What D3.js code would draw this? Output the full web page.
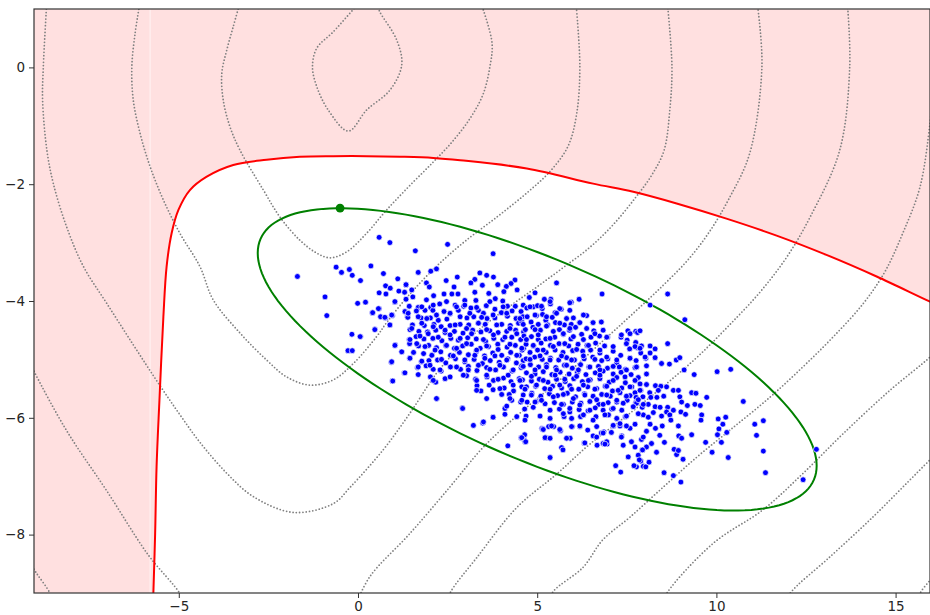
<!DOCTYPE html>
<html>
<head>
<meta charset="utf-8">
<script src="https://cdn.jsdelivr.net/npm/d3@7"></script>
<style>
  body { margin: 0; background: #fff; }
  text { font-family: "DejaVu Sans", sans-serif; }
</style>
</head>
<body>
<script>
// axis setup
const xDomain = [-9.04, 15.96];
const yDomain = [-9, 1];
const xTicks = [-5, 0, 5, 10, 15];
const yTicks = [0, -2, -4, -6, -8];

// red constraint boundary (pink = outside)
const redBoundary = [[-5.72,-9.2],[-5.71,-9.01],[-5.66,-7.98],[-5.62,-6.84],[-5.54,-5.70],[-5.43,-4.27],
  [-5.34,-3.41],[-5.20,-2.84],[-5.01,-2.44],[-4.69,-2.10],[-4.22,-1.87],[-3.48,-1.67],[-2.55,-1.58],
  [-1.62,-1.53],[-0.69,-1.52],[0.24,-1.52],[1.17,-1.53],[2.10,-1.55],[2.85,-1.59],[4.71,-1.73],
  [6.56,-1.99],[7.68,-2.13],[8.89,-2.33],[10.28,-2.59],[11.68,-2.88],[13.07,-3.21],[14.47,-3.58],
  [15.96,-4.01],[16.3,-4.10]];

// dotted level lines
const levelLines = [
  [[-0.05,1.05],[-0.69,0.61],[-1.15,0.33],[-1.27,0.01],[-1.15,-0.33],[-0.83,-0.73],[-0.27,-1.09],
   [0.24,-0.73],[0.89,-0.39],[1.22,0.04],[1.08,0.47],[0.61,0.95],[0.55,1.05]],
  [[-3.32,1.05],[-3.48,0.70],[-3.66,0.30],[-3.80,-0.10],[-3.76,-0.56],[-3.57,-1.02],[-3.29,-1.42],
   [-2.64,-2.10],[-2.18,-2.56],[-1.62,-2.96],[-1.15,-3.18],[-0.78,-3.26],[-0.32,-3.16],[0.24,-2.84],
   [0.80,-2.44],[1.45,-2.02],[2.10,-1.62],[2.62,-1.28],[3.12,-0.88],[3.49,-0.46],[3.68,0.01],
   [3.74,0.42],[3.46,1.05]],
  [[-6.10,1.05],[-6.22,0.58],[-6.31,0.01],[-6.27,-0.56],[-6.08,-1.13],[-5.80,-1.70],[-5.43,-2.27],
   [-4.97,-2.84],[-4.41,-3.41],[-4.04,-3.98],[-3.29,-4.55],[-2.55,-5.01],[-1.99,-5.30],[-1.34,-5.44],
   [-0.69,-5.35],[-0.13,-5.07],[0.52,-4.61],[0.81,-4.36],[1.42,-3.90],[2.20,-3.40],[3.00,-2.97],
   [3.90,-2.55],[4.71,-2.15],[5.36,-1.78],[5.86,-1.35],[6.10,-0.80],[6.19,0.01],[6.09,1.05]],
  [[-8.69,1.05],[-8.78,0.01],[-8.80,-0.56],[-8.68,-1.42],[-8.50,-1.99],[-8.13,-2.73],[-7.66,-3.41],
   [-7.01,-4.04],[-6.27,-4.75],[-5.60,-5.38],[-5.00,-5.92],[-4.41,-6.42],[-3.66,-6.95],[-2.92,-7.35],
   [-1.80,-7.62],[-0.69,-7.47],[-0.22,-7.19],[0.70,-6.55],[1.45,-5.92],[2.20,-5.23],[2.85,-4.78],
   [3.60,-4.38],[4.30,-4.06],[4.99,-3.76],[5.72,-3.43],[6.47,-3.08],[7.11,-2.70],[7.73,-2.24],
   [8.20,-1.84],[8.54,-1.42],[8.70,-0.73],[8.76,0.01],[8.64,1.05]],
  [[-9.2,-5.0],[-9.01,-5.24],[-8.13,-6.22],[-7.01,-7.25],[-5.85,-8.35],[-4.97,-9.01],[-4.85,-9.2]],
  [[-0.06,-9.2],[0.33,-8.72],[1.45,-7.98],[2.57,-7.18],[3.50,-6.50],[4.61,-5.87],[5.73,-5.30],
   [6.84,-4.68],[7.70,-4.20],[8.50,-3.74],[9.20,-3.30],[9.80,-2.82],[10.35,-2.25],[10.93,-1.47],
   [11.27,0.01],[11.15,1.05]],
  [[-9.2,-8.45],[-8.96,-8.67],[-8.59,-9.01],[-8.5,-9.2]],
  [[2.48,-9.2],[2.57,-9.00],[3.32,-8.39],[4.44,-7.53],[5.55,-6.96],[6.47,-6.45],[7.59,-5.92],
   [8.60,-5.42],[9.50,-4.94],[10.35,-4.42],[11.20,-3.86],[11.95,-3.26],[12.60,-2.58],[13.44,-1.42],
   [13.72,0.01],[13.66,1.05]],
  [[5.30,-9.2],[5.44,-8.98],[6.28,-8.56],[6.83,-8.09],[7.59,-7.70],[8.51,-7.19],[9.46,-6.67],
   [10.38,-6.21],[11.49,-5.65],[12.41,-5.13],[13.25,-4.62],[14.09,-4.05],[14.70,-3.50],[15.20,-2.84],
   [15.68,-2.05],[15.96,-0.96],[16.05,-0.4]],
  [[8.48,-9.2],[8.62,-9.00],[9.91,-8.15],[11.31,-7.57],[12.42,-6.95],[13.54,-6.27],[14.84,-5.53],
   [15.96,-4.96],[16.2,-4.8]],
  [[11.91,-9.2],[12.05,-9.01],[13.17,-8.38],[14.28,-7.75],[15.31,-7.12],[15.96,-6.72],[16.2,-6.58]],
  [[15.6,-9.2],[15.68,-9.01],[15.96,-8.78],[16.2,-8.6]]
];

// green confidence ellipse + marked point
const ellipseCenter = [5, -5];
const ellipseCov = [[60.8, -14.2], [-14.2, 6.7]];
const markedPoint = [-0.5, -2.41];

// sampled points
const samples = [
  [0.59,-2.91],[0.89,-3.00],[-1.69,-3.58],[-0.61,-3.42],[-0.46,-3.51],[-0.24,-3.46],[-0.16,-3.56],[0.07,-3.65],
  [0.36,-3.40],[0.71,-3.53],[1.11,-3.62],[1.34,-3.72],[0.77,-3.74],[0.90,-3.78],[1.14,-3.83],[1.30,-3.85],
  [0.59,-3.86],[0.78,-3.88],[1.34,-3.97],[-0.92,-3.93],[0.21,-4.02],[-0.01,-4.04],[1.03,-4.02],[0.59,-4.13],
  [0.40,-4.20],[0.63,-4.27],[0.77,-4.29],[0.96,-4.25],[1.38,-4.20],[1.38,-4.27],[-0.87,-4.25],[0.89,-4.41],
  [0.47,-4.48],[-0.17,-4.57],[0.07,-4.61],[1.43,-4.66],[1.04,-4.75],[1.22,-4.87],[-0.28,-4.85],[-0.16,-4.85],
  [0.93,-5.05],[1.29,-5.23],[0.96,-5.37],
  [2.50,-3.03],[1.60,-3.14],[3.77,-3.19],[2.19,-3.45],[1.68,-3.51],[2.03,-3.49],[3.40,-3.52],[3.59,-3.56],
  [3.78,-3.59],[2.77,-3.59],[2.46,-3.65],[3.26,-3.63],[3.15,-3.69],[4.38,-3.64],[4.27,-3.70],[4.14,-3.75],
  [1.91,-3.69],[1.99,-3.76],[3.90,-3.72],[3.47,-3.73],[1.34,-3.72],[2.68,-3.76],[1.50,-3.81],[2.40,-3.88],
  [2.62,-3.88],[2.79,-3.88],[3.26,-3.85],[3.65,-3.87],[4.07,-3.84],[4.44,-3.81],[1.53,-3.93],[2.11,-3.91],
  [1.91,-3.98],[2.98,-3.99],[3.29,-3.99],[3.83,-3.96],[4.04,-4.00],[2.28,-4.05],[2.71,-4.07],[2.95,-4.09],
  [3.15,-4.12],[3.58,-4.08],[4.17,-4.09],[4.39,-4.09],[4.61,-4.07],[1.43,-4.09],[1.68,-4.11],[2.03,-4.11],
  [1.31,-4.18],[1.63,-4.17],[1.87,-4.16],[2.09,-4.16],[2.40,-4.18],[2.57,-4.22],[2.80,-4.16],[3.36,-4.16],
  [3.50,-4.21],[3.82,-4.14],[4.00,-4.20],[4.30,-4.17],[4.55,-4.18],[1.39,-4.28],[1.76,-4.29],[2.02,-4.29],
  [2.24,-4.33],[2.48,-4.31],[3.04,-4.29],[3.23,-4.27],[3.60,-4.30],[3.82,-4.29],[4.17,-4.26],[4.41,-4.30],
  [4.60,-4.27],[1.52,-4.41],[1.85,-4.42],[2.12,-4.40],[2.32,-4.44],[2.57,-4.42],[2.85,-4.40],[3.09,-4.41],
  [3.36,-4.38],[3.55,-4.40],[4.01,-4.40],[4.25,-4.42],[4.48,-4.38],[1.45,-4.49],[1.70,-4.52],[1.94,-4.53],
  [2.17,-4.50],[2.43,-4.54],[2.69,-4.52],[2.93,-4.55],[3.20,-4.50],[3.43,-4.53],[3.68,-4.51],[3.91,-4.54],
  [4.15,-4.52],[4.40,-4.50],[4.62,-4.53],[1.62,-4.61],[1.84,-4.65],[2.09,-4.64],[2.34,-4.68],[2.59,-4.64],
  [2.80,-4.67],[3.06,-4.63],[3.30,-4.65],[3.56,-4.69],[3.79,-4.64],[4.04,-4.66],[4.29,-4.62],[4.54,-4.66],
  [1.44,-4.73],[1.69,-4.77],[1.97,-4.76],[2.19,-4.80],[2.45,-4.76],[2.69,-4.81],[2.92,-4.77],[3.16,-4.74],
  [3.41,-4.81],[3.64,-4.78],[3.90,-4.74],[4.16,-4.79],[4.39,-4.76],[4.62,-4.81],[1.55,-4.88],[1.83,-4.90],
  [2.07,-4.92],[2.31,-4.87],[2.58,-4.93],[2.83,-4.88],[3.08,-4.92],[3.30,-4.87],[3.53,-4.94],[3.76,-4.89],
  [4.01,-4.93],[4.26,-4.88],[4.50,-4.93],[1.44,-4.98],[1.77,-5.04],[1.98,-5.02],[2.22,-5.01],[2.45,-5.06],
  [2.72,-4.99],[2.98,-5.04],[3.24,-5.00],[3.47,-5.07],[3.69,-5.02],[3.94,-5.05],[4.18,-4.99],[4.42,-5.06],
  [4.61,-5.02],[1.66,-5.14],[1.90,-5.11],[2.10,-5.17],[2.32,-5.20],[2.58,-5.13],[2.86,-5.17],[3.08,-5.12],
  [3.32,-5.19],[3.59,-5.14],[3.84,-5.18],[4.06,-5.13],[4.30,-5.20],[4.55,-5.14],[1.68,-5.26],[2.02,-5.30],
  [2.43,-5.33],[3.03,-5.28],[3.28,-5.34],[3.60,-5.30],[3.78,-5.36],[4.06,-5.32],[4.27,-5.38],[4.50,-5.33],
  [2.17,-5.39],[3.32,-5.45],[3.43,-5.54],[3.77,-5.52],[4.08,-5.49],[4.34,-5.54],[4.57,-5.47],[4.22,-5.60],
  [4.29,-5.70],[2.20,-5.67],[4.54,-5.73],[2.91,-5.83],[4.10,-5.84],
  [5.54,-3.69],[6.81,-3.88],[4.94,-3.86],[4.78,-3.94],[5.20,-3.97],[5.38,-3.97],[5.37,-4.05],[5.95,-4.02],
  [6.17,-3.97],[4.71,-4.12],[4.89,-4.10],[5.01,-4.08],[5.14,-4.13],[5.50,-4.20],[5.67,-4.14],[5.91,-4.16],
  [6.38,-4.25],[4.72,-4.27],[4.98,-4.25],[5.15,-4.23],[5.24,-4.33],[5.42,-4.28],[6.01,-4.29],[4.57,-4.36],
  [4.83,-4.36],[5.03,-4.40],[5.29,-4.41],[5.51,-4.37],[5.76,-4.41],[5.95,-4.40],[6.18,-4.37],[6.55,-4.37],
  [6.79,-4.36],[4.67,-4.49],[4.88,-4.45],[5.09,-4.50],[5.45,-4.52],[5.62,-4.49],[5.90,-4.50],[6.07,-4.45],
  [6.38,-4.47],[6.58,-4.51],[7.53,-4.51],[7.75,-4.52],[4.63,-4.60],[4.84,-4.61],[5.03,-4.66],[5.24,-4.65],
  [5.49,-4.62],[5.73,-4.57],[5.94,-4.65],[6.24,-4.57],[6.50,-4.62],[6.74,-4.60],[6.96,-4.62],[7.34,-4.62],
  [7.51,-4.67],[7.75,-4.71],[4.69,-4.74],[4.90,-4.77],[5.11,-4.72],[5.37,-4.76],[5.61,-4.73],[5.88,-4.77],
  [6.14,-4.74],[6.39,-4.76],[6.63,-4.72],[6.88,-4.77],[4.58,-4.84],[4.80,-4.88],[5.01,-4.84],[5.25,-4.88],
  [5.50,-4.84],[5.72,-4.88],[5.99,-4.85],[6.27,-4.86],[6.49,-4.84],[6.75,-4.89],[7.12,-4.86],[7.33,-4.93],
  [7.58,-4.82],[7.80,-4.80],[4.69,-4.99],[4.93,-4.96],[5.14,-5.00],[5.37,-4.98],[5.60,-5.01],[5.82,-4.97],
  [6.04,-5.01],[6.31,-4.99],[6.55,-4.96],[6.80,-5.02],[6.97,-4.99],[7.22,-5.06],[7.59,-4.98],[4.57,-5.11],
  [4.81,-5.09],[5.04,-5.13],[5.26,-5.09],[5.52,-5.14],[5.76,-5.10],[5.98,-5.15],[6.21,-5.09],[6.44,-5.13],
  [6.71,-5.12],[6.96,-5.15],[7.29,-5.13],[7.46,-5.17],[7.77,-5.13],[4.70,-5.23],[4.94,-5.25],[5.17,-5.21],
  [5.41,-5.26],[5.64,-5.22],[5.89,-5.25],[6.12,-5.22],[6.36,-5.26],[6.62,-5.23],[6.84,-5.20],[7.12,-5.25],
  [7.34,-5.22],[7.62,-5.26],[4.59,-5.35],[4.84,-5.37],[5.06,-5.34],[5.30,-5.39],[5.54,-5.34],[5.78,-5.38],
  [6.02,-5.33],[6.26,-5.38],[6.48,-5.35],[6.75,-5.33],[7.01,-5.39],[7.22,-5.31],[7.46,-5.40],[7.77,-5.36],
  [4.70,-5.47],[4.96,-5.46],[5.21,-5.50],[5.43,-5.46],[5.68,-5.49],[5.91,-5.45],[6.16,-5.51],[6.41,-5.47],
  [6.66,-5.50],[6.90,-5.46],[7.10,-5.54],[7.36,-5.49],[7.64,-5.47],[4.61,-5.61],[4.85,-5.58],[5.10,-5.63],
  [5.34,-5.59],[5.57,-5.62],[5.84,-5.58],[6.07,-5.64],[6.32,-5.59],[6.56,-5.63],[6.80,-5.60],[7.04,-5.63],
  [7.31,-5.57],[7.59,-5.62],[4.72,-5.73],[4.97,-5.72],[5.22,-5.76],[5.48,-5.74],[5.73,-5.77],[5.98,-5.73],
  [6.22,-5.75],[6.47,-5.72],[6.72,-5.77],[6.98,-5.74],[7.22,-5.73],[7.51,-5.70],[7.75,-5.74],[4.65,-5.85],
  [4.89,-5.82],[5.36,-5.87],[5.62,-5.85],[5.91,-5.90],[6.17,-5.86],[6.42,-5.88],[6.62,-5.83],[6.84,-5.87],
  [7.08,-5.85],[7.36,-5.87],[4.69,-5.97],[5.08,-5.97],[5.75,-5.98],[6.21,-5.98],[6.64,-5.98],[6.99,-5.95],
  [7.22,-6.01],[7.46,-5.98],[5.13,-6.18],[5.32,-6.15],[5.46,-6.15],[5.65,-6.22],[5.98,-6.15],[6.19,-6.15],
  [6.41,-6.21],[6.86,-6.24],[7.13,-6.14],[7.31,-6.14],[7.59,-6.18],[4.65,-6.29],[4.64,-6.38],[5.23,-6.34],
  [5.92,-6.35],[6.56,-6.31],[6.79,-6.26],[7.07,-6.25],[7.36,-6.31],[5.68,-6.51],[6.31,-6.43],[6.67,-6.47],
  [6.95,-6.45],
  [8.64,-3.88],[8.15,-4.07],[9.12,-4.32],[7.80,-4.54],[7.87,-4.51],[8.64,-4.73],[7.73,-4.78],[7.91,-4.77],
  [8.15,-4.77],[8.29,-4.82],[7.89,-4.89],[8.15,-4.89],[7.76,-5.02],[8.03,-4.98],[8.29,-4.97],[8.47,-5.07],
  [8.69,-5.08],[8.88,-5.01],[8.98,-4.97],[8.05,-5.11],[7.73,-5.14],[9.10,-5.18],[9.38,-5.26],[10.02,-5.21],
  [10.40,-5.17],[8.05,-5.25],[7.82,-5.31],[7.87,-5.42],[8.05,-5.43],[8.30,-5.45],[8.45,-5.46],[8.61,-5.47],
  [8.80,-5.53],[8.94,-5.53],[9.31,-5.57],[9.43,-5.58],[9.73,-5.65],[10.75,-5.72],[7.73,-5.57],[7.89,-5.53],
  [8.14,-5.57],[8.38,-5.53],[7.76,-5.65],[7.95,-5.64],[8.17,-5.65],[8.34,-5.65],[8.53,-5.63],[8.98,-5.64],
  [9.03,-5.73],[9.19,-5.79],[9.40,-5.77],[9.55,-5.79],[7.77,-5.75],[7.93,-5.82],[8.10,-5.77],[8.29,-5.81],
  [8.43,-5.82],[8.64,-5.82],[8.80,-5.87],[7.96,-5.95],[8.10,-5.99],[8.24,-5.91],[8.47,-5.97],[8.61,-5.90],
  [8.70,-5.95],[8.73,-6.04],[9.01,-5.90],[9.14,-5.94],[9.59,-5.95],[9.57,-6.04],[10.05,-6.02],[10.26,-5.99],
  [7.73,-6.11],[8.15,-6.11],[8.30,-6.18],[8.49,-6.14],[8.94,-6.14],[10.18,-6.11],[11.07,-6.11],[11.31,-6.05],
  [8.05,-6.23],[8.42,-6.30],[8.95,-6.31],[9.03,-6.35],[9.31,-6.29],[10.03,-6.29],[10.07,-6.19],[10.29,-6.25],
  [11.12,-6.30],[7.91,-6.37],[8.19,-6.44],[8.55,-6.42],[9.70,-6.42],[10.14,-6.42],[7.73,-6.50],[7.93,-6.55],
  [8.33,-6.59],[8.82,-6.54],[8.89,-6.63],[8.94,-6.56],[9.07,-6.71],[9.88,-6.59],[10.33,-6.68],[11.31,-6.57],
  [12.79,-6.54],[7.82,-6.64],[7.77,-6.84],[7.96,-6.83],[8.12,-6.76],[7.89,-6.74],[8.54,-6.94],[8.80,-6.99],
  [9.01,-7.10],[11.37,-6.94],[12.42,-7.06],
  [4.18,-6.48],[3.22,-6.13],[3.48,-6.09],[3.77,-5.99],[4.55,-6.34],[4.66,-6.41],[5.36,-6.68],[5.72,-6.55],
  [5.24,-6.34],[5.15,-6.19],[7.19,-6.82],[7.33,-6.93],[7.54,-6.67],[7.70,-6.82],[6.84,-6.44],[6.94,-6.41],
  [6.66,-6.33],[7.40,-6.47],
  [0.57,-4.13],[1.03,-4.01],[1.78,-4.10],[2.10,-4.07],[2.47,-4.01],[2.75,-4.10],[2.98,-4.07],[3.31,-4.11],
  [3.68,-4.01],[4.05,-4.10],[4.80,-4.10],[5.12,-4.09],[5.36,-4.01],[5.63,-4.13],[5.91,-4.03],
  [0.41,-4.20],[0.75,-4.28],[0.94,-4.24],[1.40,-4.21],[1.68,-4.27],[1.92,-4.30],[2.19,-4.24],[2.57,-4.21],
  [2.85,-4.27],[3.12,-4.21],[3.45,-4.28],[3.77,-4.24],[4.15,-4.21],[4.52,-4.30],[4.94,-4.24],[5.26,-4.27],
  [5.54,-4.21],[5.82,-4.30],[6.29,-4.24],
  [0.47,-4.49],[0.89,-4.41],[1.50,-4.47],[1.78,-4.38],[2.10,-4.44],[2.43,-4.50],[2.71,-4.41],[3.03,-4.47],
  [3.36,-4.38],[3.59,-4.49],[3.87,-4.41],[4.24,-4.47],[4.61,-4.40],[4.94,-4.49],[5.26,-4.43],[5.63,-4.38],
  [5.91,-4.47],[6.19,-4.37],[6.56,-4.37],[6.84,-4.50],
  [0.06,-4.61],[1.45,-4.66],[1.73,-4.60],[1.96,-4.56],[2.24,-4.62],[2.57,-4.58],[2.85,-4.64],[3.17,-4.56],
  [3.50,-4.66],[3.78,-4.58],[4.10,-4.62],[4.43,-4.56],[4.70,-4.66],[5.03,-4.58],[5.36,-4.64],[5.73,-4.56],
  [6.01,-4.61],[6.29,-4.66],[6.61,-4.56],[6.94,-4.62],[7.35,-4.58],[7.59,-4.56],
  [1.03,-4.76],[1.22,-4.87],[1.64,-4.73],[1.87,-4.78],[2.15,-4.84],[2.47,-4.76],[2.75,-4.81],[3.03,-4.73],
  [3.31,-4.84],[3.59,-4.77],[3.91,-4.83],[4.24,-4.74],[4.57,-4.81],[4.89,-4.76],[5.17,-4.84],[5.45,-4.78],
  [5.77,-4.73],[6.10,-4.83],[6.43,-4.76],[6.75,-4.84],[7.12,-4.78],[7.49,-4.73],[7.87,-4.81],
  [0.94,-5.04],[1.45,-4.98],[1.78,-5.03],[2.06,-4.93],[2.33,-5.00],[2.66,-4.94],[2.98,-5.01],[3.26,-4.93],
  [3.54,-4.98],[3.82,-4.94],[4.15,-5.01],[4.43,-4.93],[4.80,-5.00],[5.08,-4.94],[5.36,-5.01],[5.68,-4.94],
  [5.96,-5.01],[6.29,-4.94],[6.61,-5.00],[6.94,-4.96],[7.22,-5.01],[7.59,-4.98],[8.01,-4.96],
  [1.31,-5.23],[1.68,-5.13],[2.01,-5.10],[2.29,-5.18],[2.75,-5.13],[3.08,-5.18],[3.36,-5.10],[3.68,-5.17],
  [3.96,-5.10],[4.33,-5.18],[4.61,-5.12],[4.94,-5.18],[5.26,-5.13],[5.54,-5.18],[5.82,-5.10],[6.15,-5.18],
  [6.47,-5.13],[6.75,-5.18],[7.12,-5.12],[7.49,-5.18],[7.77,-5.13],
  [0.97,-5.37],[2.10,-5.36],[2.57,-5.30],[2.94,-5.27],[3.31,-5.36],[3.59,-5.27],[3.91,-5.34],[4.19,-5.27],
  [4.52,-5.36],[4.84,-5.29],[5.17,-5.36],[5.50,-5.27],[5.77,-5.34],[6.10,-5.29],[6.43,-5.36],[6.75,-5.27],
  [7.12,-5.36],[7.45,-5.30],[7.73,-5.36],
  [3.31,-5.53],[3.66,-5.44],[3.96,-5.50],[4.33,-5.44],[4.66,-5.51],[4.98,-5.44],[5.36,-5.51],[5.63,-5.44],
  [5.96,-5.51],[6.29,-5.44],[6.61,-5.51],[6.94,-5.46],[7.26,-5.53],[7.59,-5.47],[7.87,-5.53],
  [2.19,-5.67],[3.59,-5.67],[4.01,-5.60],[4.24,-5.67],[4.57,-5.70],[4.84,-5.61],[5.12,-5.70],[5.45,-5.64],
  [5.73,-5.60],[6.01,-5.67],[6.33,-5.61],[6.66,-5.69],[6.94,-5.61],[7.22,-5.70],[7.49,-5.63],[7.82,-5.69],
  [2.92,-5.84],[4.15,-5.80],[4.94,-5.73],[5.68,-5.77],[5.91,-5.84],[6.19,-5.78],[6.47,-5.87],[6.84,-5.77],
  [7.12,-5.84],[7.40,-5.75],[7.68,-5.81],[7.96,-5.77],
  [3.77,-5.99],[4.10,-5.94],[4.43,-5.98],[4.66,-6.04],[5.08,-5.97],[5.36,-6.01],[5.73,-5.93],[5.96,-6.01],
  [6.29,-5.95],[6.56,-6.04],[6.89,-5.95],[7.22,-6.01],[7.49,-5.97],[7.82,-5.93],
  [3.50,-6.07],[5.17,-6.20],[5.40,-6.14],[5.63,-6.20],[5.96,-6.15],[6.19,-6.14],[6.66,-6.15],[7.12,-6.13],
  [7.31,-6.10],[7.49,-6.14],
  [4.57,-6.34],[5.22,-6.34],[5.36,-6.35],[5.82,-6.35],[6.33,-6.43],[6.89,-6.45],[6.84,-6.26],[7.35,-6.33],
  [7.63,-6.41],[7.96,-6.33],[8.05,-6.50],[4.68,-6.41],[7.85,-6.72],[7.94,-6.55],[8.03,-6.84]
];

// svg set up
const fullWidth = 930, fullHeight = 615;
const margin = {top: 9, left: 34};
const width = 896, height = 584;

const svg = d3.select("body").append("svg")
  .attr("width", fullWidth)
  .attr("height", fullHeight);

const g = svg.append("g")
  .attr("transform", "translate(" + margin.left + "," + margin.top + ")");

const x = d3.scaleLinear().domain(xDomain).range([0, width]);
const y = d3.scaleLinear().domain(yDomain).range([height, 0]);

g.append("clipPath").attr("id", "plot-clip")
  .append("rect").attr("width", width).attr("height", height);

const plot = g.append("g").attr("clip-path", "url(#plot-clip)");

const line = d3.line()
  .x(d => x(d[0]))
  .y(d => y(d[1]))
  .curve(d3.curveCatmullRom);

// pink region outside the red boundary
const pinkArea = redBoundary.concat([[16.3, 1.3], [-9.4, 1.3], [-9.4, -9.3], [-5.72, -9.3]]);
plot.append("path")
  .attr("d", line(pinkArea) + "Z")
  .attr("fill", "#ffe0e0");

// thin light seam inside the fill
plot.append("line")
  .attr("x1", x(-5.8)).attr("x2", x(-5.8))
  .attr("y1", 0).attr("y2", height)
  .attr("stroke", "#fff4f4")
  .attr("stroke-width", 1);

// dotted level lines
plot.append("g")
  .selectAll("path")
  .data(levelLines)
  .enter()
  .append("path")
  .attr("d", line)
  .attr("fill", "none")
  .attr("stroke", "#808080")
  .attr("stroke-width", 1.8)
  .attr("stroke-linecap", "round")
  .attr("stroke-dasharray", "0,3.3");

// red boundary
plot.append("path")
  .attr("d", line(redBoundary))
  .attr("fill", "none")
  .attr("stroke", "#ff0000")
  .attr("stroke-width", 2);

// green ellipse from centre and covariance
const l11 = Math.sqrt(ellipseCov[0][0]);
const l21 = ellipseCov[1][0] / l11;
const l22 = Math.sqrt(ellipseCov[1][1] - l21 * l21);
const ellipsePts = d3.range(0, 361, 2).map(a => {
  const t = a * Math.PI / 180;
  return [ellipseCenter[0] + l11 * Math.cos(t),
          ellipseCenter[1] + l21 * Math.cos(t) + l22 * Math.sin(t)];
});
plot.append("path")
  .attr("d", d3.line().x(d => x(d[0])).y(d => y(d[1]))(ellipsePts) + "Z")
  .attr("fill", "none")
  .attr("stroke", "#008000")
  .attr("stroke-width", 2);

// samples
plot.append("g")
  .selectAll("circle")
  .data(samples)
  .enter()
  .append("circle")
  .attr("cx", d => x(d[0]))
  .attr("cy", d => y(d[1]))
  .attr("r", 2.9)
  .attr("fill", "#0000ff")
  .attr("stroke", "#ffffff")
  .attr("stroke-width", 0.7);

plot.append("circle")
  .attr("cx", x(markedPoint[0]))
  .attr("cy", y(markedPoint[1]))
  .attr("r", 4.4)
  .attr("fill", "#008000");

// axes
const xAxis = g.append("g")
  .attr("transform", "translate(0," + height + ")")
  .call(d3.axisBottom(x).tickValues(xTicks).tickSize(5).tickPadding(3));
const yAxis = g.append("g")
  .call(d3.axisLeft(y).tickValues(yTicks).tickSize(5).tickPadding(4));

[xAxis, yAxis].forEach(a => {
  a.select(".domain").remove();
  a.selectAll("line").attr("stroke", "#333");
  a.selectAll("text")
    .attr("fill", "#262626")
    .style("font-size", "13.5px")
    .style("font-family", "'DejaVu Sans', sans-serif");
});

// spines
g.append("rect")
  .attr("width", width)
  .attr("height", height)
  .attr("fill", "none")
  .attr("stroke", "#333")
  .attr("stroke-width", 1.2);
</script>
</body>
</html>
